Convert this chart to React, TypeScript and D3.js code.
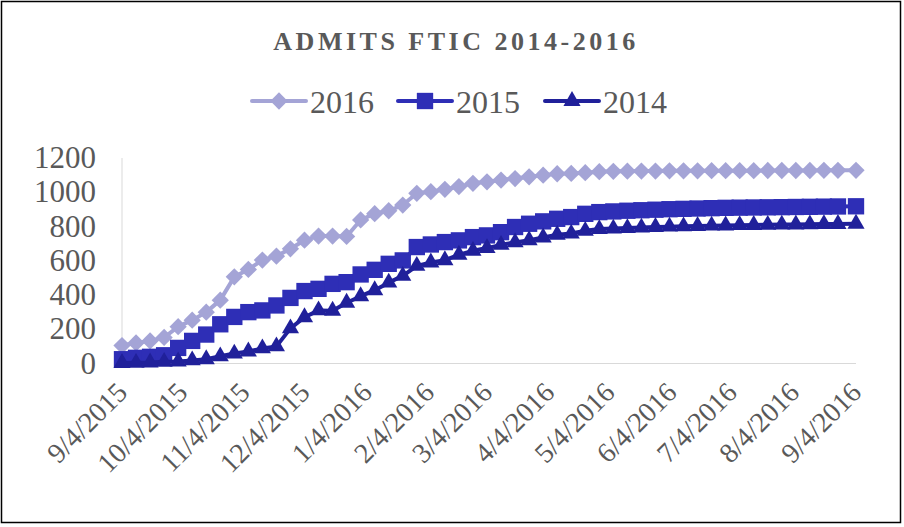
import * as d3 from "d3";
import { useEffect, useRef } from "react";

const dates: string[] = [
  "2015-09-04", "2015-09-11", "2015-09-18", "2015-09-25", "2015-10-02",
  "2015-10-09", "2015-10-16", "2015-10-23", "2015-10-30", "2015-11-06",
  "2015-11-13", "2015-11-20", "2015-11-27", "2015-12-04", "2015-12-11",
  "2015-12-18", "2015-12-25", "2016-01-01", "2016-01-08", "2016-01-15",
  "2016-01-22", "2016-01-29", "2016-02-05", "2016-02-12", "2016-02-19",
  "2016-02-26", "2016-03-04", "2016-03-11", "2016-03-18", "2016-03-25",
  "2016-04-01", "2016-04-08", "2016-04-15", "2016-04-22", "2016-04-29",
  "2016-05-06", "2016-05-13", "2016-05-20", "2016-05-27", "2016-06-03",
  "2016-06-10", "2016-06-17", "2016-06-24", "2016-07-01", "2016-07-08",
  "2016-07-15", "2016-07-22", "2016-07-29", "2016-08-05", "2016-08-12",
  "2016-08-19", "2016-08-26", "2016-09-04",
];

const admits2016: number[] = [
  105, 120, 132, 152, 215, 253, 300, 370, 506, 549, 604, 627, 670, 720, 744,
  744, 742, 838, 875, 892, 925, 994, 1003, 1017, 1033, 1052, 1061, 1071, 1080,
  1090, 1100, 1108, 1110, 1114, 1120, 1122, 1123, 1124, 1124, 1125, 1125, 1125,
  1126, 1126, 1126, 1126, 1127, 1127, 1127, 1127, 1128, 1128, 1128,
];

const admits2015: number[] = [
  25, 33, 39, 48, 91, 132, 169, 229, 272, 300, 310, 339, 383, 423, 436, 465,
  475, 520, 547, 582, 602, 680, 695, 709, 719, 738, 748, 767, 797, 816, 830,
  845, 855, 874, 884, 888, 892, 895, 898, 901, 903, 905, 907, 909, 910, 911,
  912, 913, 914, 915, 916, 917, 918,
];

const admits2014: number[] = [
  3, 4, 6, 10, 12, 18, 25, 42, 58, 70, 88, 100, 205, 270, 310, 308, 355, 393,
  428, 472, 512, 570, 590, 603, 635, 658, 674, 693, 707, 720, 736, 752, 759,
  775, 785, 788, 791, 794, 797, 799, 801, 803, 805, 806, 808, 809, 810, 811,
  812, 813, 814, 815, 816,
];

const tickDates: string[] = [
  "2015-09-04", "2015-10-04", "2015-11-04", "2015-12-04", "2016-01-04",
  "2016-02-04", "2016-03-04", "2016-04-04", "2016-05-04", "2016-06-04",
  "2016-07-04", "2016-08-04", "2016-09-04",
];

const yTicks: number[] = [0, 200, 400, 600, 800, 1000, 1200];

const seriesNames: string[] = ["2016", "2015", "2014"];
const seriesColors: string[] = ["#a4a4d6", "#2e2eb6", "#20209a"];
const seriesMarkers = [d3.symbolDiamond2, d3.symbolSquare2, d3.symbolTriangle2];
const markerSizes: number[] = [190, 340, 210];

const App = () => {
  const ref = useRef<SVGSVGElement | null>(null);

  useEffect(() => {
    document.body.style.margin = "0";
    const svg = d3.select(ref.current);
    svg.selectAll("*").remove();

    const width = 904;
    const height = 527;
    const font = "'Liberation Serif', 'Times New Roman', serif";
    const textColor = "#595959";
    const margin = { top: 158, right: 48, bottom: 163.5, left: 122 };

    const parse = d3.timeParse("%Y-%m-%d");
    const x = d3
      .scaleTime()
      .domain([parse(dates[0])!, parse(dates[dates.length - 1])!])
      .range([margin.left, width - margin.right]);
    const y = d3
      .scaleLinear()
      .domain([0, 1200])
      .range([height - margin.bottom, margin.top]);

    svg.attr("width", width).attr("height", height);

    svg
      .append("rect")
      .attr("x", 1.5)
      .attr("y", 1.5)
      .attr("width", width - 5)
      .attr("height", height - 6)
      .attr("fill", "#fff")
      .attr("stroke", "#000")
      .attr("stroke-width", 1.5);

    // Title
    svg
      .append("text")
      .attr("x", 456)
      .attr("y", 50)
      .attr("text-anchor", "middle")
      .style("font-family", font)
      .style("font-size", "26px")
      .style("font-weight", "bold")
      .style("letter-spacing", "3.5px")
      .style("fill", textColor)
      .text("ADMITS FTIC 2014-2016");

    // Axis lines
    svg
      .append("line")
      .attr("x1", margin.left)
      .attr("x2", margin.left)
      .attr("y1", y(1200))
      .attr("y2", y(0))
      .attr("stroke", "#d9d9d9")
      .attr("stroke-width", 1);
    svg
      .append("line")
      .attr("x1", margin.left)
      .attr("x2", width - margin.right)
      .attr("y1", y(0))
      .attr("y2", y(0))
      .attr("stroke", "#d9d9d9")
      .attr("stroke-width", 1);

    // Y labels
    svg
      .append("g")
      .selectAll("text")
      .data(yTicks)
      .enter()
      .append("text")
      .attr("x", 96)
      .attr("y", (d) => y(d))
      .attr("dy", "0.33em")
      .attr("text-anchor", "end")
      .style("font-family", font)
      .style("font-size", "31px")
      .style("fill", textColor)
      .text((d) => d);

    // X labels (rotated)
    svg
      .append("g")
      .selectAll("text")
      .data(tickDates)
      .enter()
      .append("text")
      .attr("transform", (d) => `translate(${x(parse(d)!) + 7}, 394) rotate(-45)`)
      .attr("text-anchor", "end")
      .style("font-family", font)
      .style("font-size", "28px")
      .style("fill", textColor)
      .text((d) => d3.timeFormat("%-m/%-d/%Y")(parse(d)!));

    // Series
    const allSeries = [admits2016, admits2015, admits2014];
    const line = d3
      .line<number>()
      .x((_, i) => x(parse(dates[i])!))
      .y((d) => y(d));

    allSeries.forEach((values, s) => {
      const g = svg.append("g");
      g.append("path")
        .datum(values)
        .attr("d", line)
        .attr("fill", "none")
        .attr("stroke", seriesColors[s])
        .attr("stroke-width", 4)
        .attr("stroke-linejoin", "round");
      g.selectAll("path.marker")
        .data(values)
        .enter()
        .append("path")
        .attr("class", "marker")
        .attr("transform", (d, i) => `translate(${x(parse(dates[i])!)}, ${y(d)})`)
        .attr("d", d3.symbol(seriesMarkers[s], markerSizes[s]))
        .attr("fill", seriesColors[s]);
    });

    // Legend
    const legendX = [252, 398, 545];
    const legend = svg
      .selectAll("g.legend")
      .data(seriesNames)
      .enter()
      .append("g")
      .attr("class", "legend")
      .attr("transform", (_, i) => `translate(${legendX[i]}, 101)`);
    legend
      .append("line")
      .attr("x1", 0)
      .attr("x2", 54)
      .attr("stroke", (_, i) => seriesColors[i])
      .attr("stroke-width", 4)
      .attr("stroke-linecap", "round");
    legend
      .append("path")
      .attr("transform", "translate(27, 0)")
      .attr("d", (_, i) => d3.symbol(seriesMarkers[i], markerSizes[i])())
      .attr("fill", (_, i) => seriesColors[i]);
    legend
      .append("text")
      .attr("x", 58)
      .attr("y", 12)
      .style("font-family", font)
      .style("font-size", "32px")
      .style("fill", textColor)
      .text((d) => d);
  }, []);

  return <svg ref={ref} style={{ display: "block" }}></svg>;
};

export default App;
